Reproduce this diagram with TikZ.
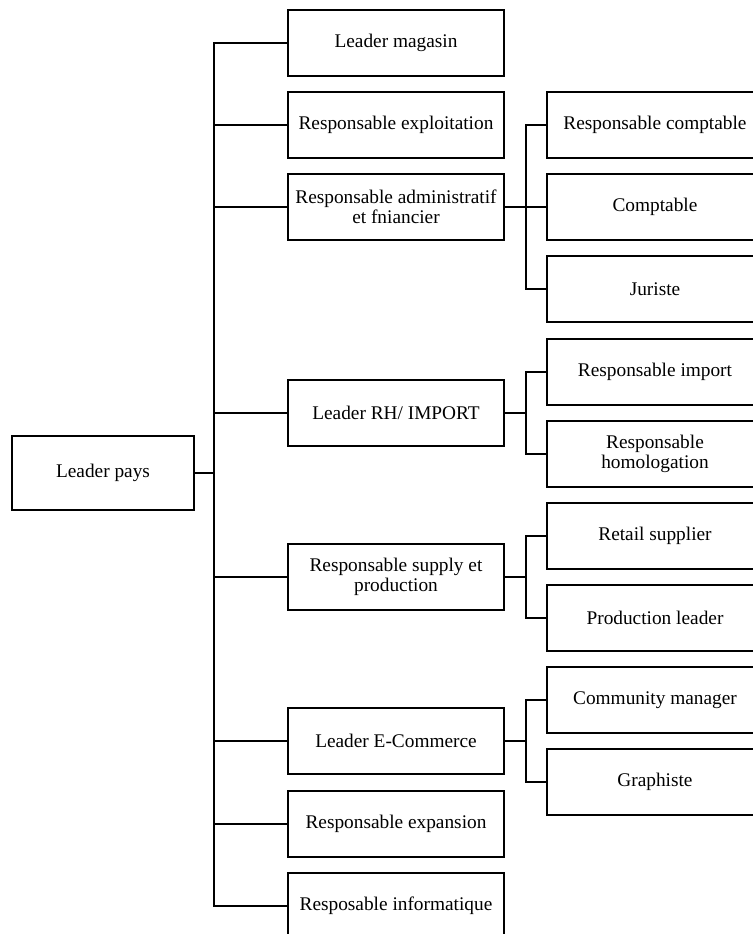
\documentclass[tikz,border=0pt]{standalone}
\usepackage{fontspec}
\setmainfont{Liberation Serif}
\begin{document}
\begin{tikzpicture}[x=0.02cm, y=-0.02cm, line join=miter,
		font=\fontsize{11}{11.5}\selectfont,
		box/.style={draw, line width=0.8pt, minimum width=4.32cm, minimum height=1.32cm, inner xsep=1pt, align=center},
		rootbox/.style={box, minimum width=3.64cm, minimum height=1.48cm},
		link/.style={line width=0.8pt}]
		\useasboundingbox (0,0) rectangle (753,934);
		%\draw[gray!40] (0,0) grid[step=50] (753,934);
		\node[rootbox] (pays) at (103,473) {Leader pays};
		% niveau 2
		\node[box] (magasin) at (396,43) {Leader magasin};
		\node[box] (exploit) at (396,125) {Responsable exploitation};
		\node[box] (admin) at (396,207) {Responsable administratif\\ et fniancier};
		\node[box] (rh) at (396,413) {Leader RH/ IMPORT};
		\node[box] (supply) at (396,577) {Responsable supply et\\ production};
		\node[box] (ecom) at (396,741) {Leader E-Commerce};
		\node[box] (expan) at (396,824) {Responsable expansion};
		\node[box] (info) at (396,906) {Resposable informatique};
		% niveau 3
		\node[box] (rcompt) at (655,125) {Responsable comptable};
		\node[box] (compt) at (655,207) {Comptable};
		\node[box] (jur) at (655,289) {Juriste};
		\node[box] (rimport) at (655,372) {Responsable import};
		\node[box] (homol) at (655,454) {Responsable\\ homologation};
		\node[box] (retail) at (655,536) {Retail supplier};
		\node[box] (prod) at (655,618) {Production leader};
		\node[box] (commu) at (655,700) {Community manager};
		\node[box] (graph) at (655,782) {Graphiste};
		\coordinate (bus) at (214,0);
		\coordinate (sub) at (526,0);
		% liaisons
		\draw[link] (pays.east) -- (pays.east -| bus);
		\draw[link] (magasin.west) -- (magasin.west -| bus) -- (info.west -| bus) -- (info.west);
		\foreach \n in {exploit,admin,rh,supply,ecom,expan}
			\draw[link] (\n.west) -- (\n.west -| bus);
		\draw[link] (rcompt.west) -- (rcompt.west -| sub) |- (jur.west);
		\draw[link] (admin.east) -- (compt.west);
		\draw[link] (rimport.west) -- (rimport.west -| sub) |- (homol.west);
		\draw[link] (rh.east) -- (rh.east -| sub);
		\draw[link] (retail.west) -- (retail.west -| sub) |- (prod.west);
		\draw[link] (supply.east) -- (supply.east -| sub);
		\draw[link] (commu.west) -- (commu.west -| sub) |- (graph.west);
		\draw[link] (ecom.east) -- (ecom.east -| sub);
	\end{tikzpicture}
\end{document}
